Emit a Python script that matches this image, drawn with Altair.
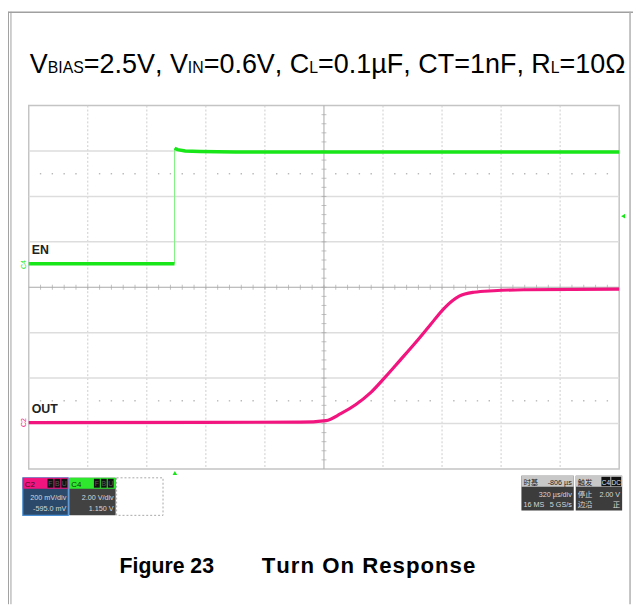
import altair as alt
import pandas as pd
import numpy as np

# ---------------- data (in screen divisions: x 0..10, y -4..4) ----------------
en_low_x = [0.0, 2.47]
en_low_y = [0.52, 0.52]
en_edge_x = [2.47, 2.47]
en_edge_y = [0.52, 3.06]
en_high_x = [2.47, 2.52, 2.65, 2.9, 3.5, 10.0]
en_high_y = [3.06, 3.03, 3.00, 2.99, 2.98, 2.98]

out_x = [0.0, 4.6, 5.033, 5.284, 5.535, 5.786, 6.037, 6.288, 6.538, 6.789, 7.040, 7.291, 7.542, 7.876, 8.378, 10.0]
out_y = [-2.98, -2.97, -2.935, -2.783, -2.587, -2.326, -1.978, -1.609, -1.239, -0.848, -0.457, -0.196, -0.109, -0.076, -0.054, -0.04]

vgrid = [1, 2, 3, 4, 6, 7, 8, 9]
hgrid = [-3, -2, -1, 1, 2, 3]
minor_x = [round(v, 2) for v in np.arange(0.2, 10.0, 0.2)]
minor_y = [round(v, 2) for v in np.arange(-3.8, 4.0, 0.2)]
dot_x = [v for v in minor_x if abs(v - round(v)) > 1e-6]
dot_rows = [2.5, -2.5]

title_segments = [("V", 0), ("BIAS", 1), ("=2.5V, V", 0), ("IN", 1), ("=0.6V, C", 0), ("L", 1),
                  ("=0.1µF, CT=1nF, R", 0), ("L", 1), ("=10Ω", 0)]
caption_left = "Figure 23"
caption_right = "Turn On Response"

W, H = 598, 368
xs = alt.Scale(domain=[0, 10], nice=False, zero=False)
ys = alt.Scale(domain=[-4, 4], nice=False, zero=False)
one = alt.Data(values=[{"k": 0}])


def X(f="x"):
    return alt.X(f + ":Q", scale=xs, axis=None)


def Y(f="y"):
    return alt.Y(f + ":Q", scale=ys, axis=None)


layers = []

# grid
layers.append(alt.Chart(pd.DataFrame({"x": vgrid})).mark_rule(color="#cccccc", strokeWidth=1, strokeDash=[2, 2]).encode(x=X()))
layers.append(alt.Chart(pd.DataFrame({"y": hgrid})).mark_rule(color="#dddddd", strokeWidth=1.5).encode(y=Y()))
layers.append(alt.Chart(pd.DataFrame({"x": [5]})).mark_rule(color="#a8a8a8", strokeWidth=1).encode(x=X()))
layers.append(alt.Chart(pd.DataFrame({"y": [0]})).mark_rule(color="#a8a8a8", strokeWidth=1).encode(y=Y()))
layers.append(alt.Chart(pd.DataFrame({"x": minor_x, "y": [0] * len(minor_x)})).mark_tick(
    color="#a8a8a8", orient="vertical", size=5, thickness=1).encode(x=X(), y=Y()))
layers.append(alt.Chart(pd.DataFrame({"y": minor_y, "x": [5] * len(minor_y)})).mark_tick(
    color="#a8a8a8", orient="horizontal", size=5, thickness=1).encode(x=X(), y=Y()))
dots = pd.DataFrame([{"x": x, "y": y} for y in dot_rows for x in dot_x])
layers.append(alt.Chart(dots).mark_square(color="#b8b8b8", size=2, opacity=1).encode(x=X(), y=Y()))

# traces
en_df = pd.concat([
    pd.DataFrame({"x": en_low_x, "y": en_low_y, "s": "low"}),
    pd.DataFrame({"x": en_high_x, "y": en_high_y, "s": "high"}),
])
layers.append(alt.Chart(pd.DataFrame({"x": en_edge_x, "y": en_edge_y})).mark_line(color="#7cf07c", strokeWidth=1).encode(x=X(), y=Y()))
layers.append(alt.Chart(en_df).mark_line(color="#19e619", strokeWidth=3.5).encode(x=X(), y=Y(), detail="s:N"))
layers.append(alt.Chart(pd.DataFrame({"x": out_x, "y": out_y})).mark_line(
    color="#f2147f", strokeWidth=3.2, interpolate="monotone").encode(x=X(), y=Y()))

# ---------- decorations (pixel positions relative to plot origin) ----------
OX, OY = 29, 103  # plot origin in page coordinates


def px(x):
    return x - OX


def py(y):
    return y - OY


def rect(x1, y1, x2, y2, fill, stroke=None, sw=1, dash=None):
    kw = dict(fill=fill)
    if stroke:
        kw["stroke"] = stroke
        kw["strokeWidth"] = sw
    if dash:
        kw["strokeDash"] = dash
    return alt.Chart(one).mark_rect(**kw).encode(
        x=alt.value(px(x1)), x2=alt.value(px(x2)), y=alt.value(py(y1)), y2=alt.value(py(y2)))


def hline(x1, x2, y, color, sw=1):
    return alt.Chart(one).mark_rule(color=color, strokeWidth=sw).encode(
        x=alt.value(px(x1)), x2=alt.value(px(x2)), y=alt.value(py(y)), y2=alt.value(py(y)))


def vline(x, y1, y2, color, sw=1):
    return alt.Chart(one).mark_rule(color=color, strokeWidth=sw).encode(
        x=alt.value(px(x)), x2=alt.value(px(x)), y=alt.value(py(y1)), y2=alt.value(py(y2)))


def txt(t, x, y, size, color="#000000", weight="normal", align="left", font="Liberation Sans", angle=0, baseline="alphabetic"):
    kw = dict(text=t, fontSize=size, color=color, fontWeight=weight, align=align, font=font, baseline=baseline)
    if angle:
        kw["angle"] = angle
    return alt.Chart(one).mark_text(**kw).encode(x=alt.value(px(x)), y=alt.value(py(y)))


# outer frame
layers.append(vline(8.5, 8, 608, "#a0a0a0", 1))
layers.append(vline(11, 8, 608, "#a0a0a0", 1))
layers.append(hline(8, 641, 8.5, "#a0a0a0", 1.5))
layers.append(vline(638, 8, 608, "#b0b0b0", 1.5))

# Arial / Liberation Sans advance widths (per 1000 em); chars placed one by one (no kerning)
AW = {'V': 667, 'B': 667, 'I': 278, 'A': 667, 'S': 667, '=': 584, '2': 556, '.': 278, '5': 556,
      ',': 278, ' ': 278, 'N': 722, '0': 556, '6': 556, 'C': 722, 'L': 556, '1': 556, 'µ': 576,
      'F': 611, 'T': 611, 'n': 556, 'R': 722, 'Ω': 768}
AWB = {'F': 611, 'i': 278, 'g': 611, 'u': 611, 'r': 389, 'e': 556, ' ': 278, '2': 556, '3': 556,
       'T': 611, 'n': 611, 'O': 778, 'R': 722, 's': 556, 'p': 611, 'o': 611}


def place(text, x0, y, size, widths, weight="normal", track=0.0):
    x = x0
    for c in text:
        if c != " ":
            layers.append(txt(c, x, y, size, "#000000", weight))
        x += widths[c] * size / 1000.0 + track
    return x


MAIN, SUB = 27.3, 16
cx = 30
for seg, is_sub in title_segments:
    cx = place(seg, cx, 70, SUB if is_sub else MAIN, AW)

# caption
place(caption_left, 121, 576, 21.5, AWB, "bold")
place(caption_right, 265, 576, 22.5, AWB, "bold", track=1.0)

# trace labels
layers.append(txt("EN", 32, 253, 12.5, "#222222", "bold"))
layers.append(txt("OUT", 32, 414, 12.5, "#222222", "bold"))
layers.append(txt("C4", 26, 264, 7, "#19e619", angle=270, align="center"))
layers.append(txt("C2", 26, 424, 7, "#f2147f", angle=270, align="center"))

# trigger markers
layers.append(alt.Chart(one).mark_point(shape="triangle-up", filled=True, color="#19e619", size=22, opacity=1).encode(
    x=alt.value(px(177)), y=alt.value(py(475))))
layers.append(alt.Chart(one).mark_point(shape="triangle-left", filled=True, color="#19e619", size=22, opacity=1).encode(
    x=alt.value(px(631)), y=alt.value(py(215))))

# channel boxes
SF = "Liberation Sans"
BS = 7.3
layers.append(rect(23, 480, 69, 518, "#2b4a6b", "#4a8fd4", 1.2))
layers.append(rect(23, 480, 69, 491, "#f2147f"))
layers.append(txt("C2", 25, 489, 8, "#3a1020", font=SF))
for i, ch in enumerate(["F", "B", "U"]):
    layers.append(rect(48 + i * 7, 481, 54 + i * 7, 490, "#111111"))
    layers.append(txt(ch, 51 + i * 7, 488.5, 7, "#5a5a5a", align="center", font=SF))
layers.append(txt("200 mV/div", 67, 502, BS, "#d8d8d8", align="right", font=SF))
layers.append(txt("-595.0 mV", 67, 514, BS, "#d8d8d8", align="right", font=SF))

layers.append(rect(70, 480, 117, 518, "#424242"))
layers.append(rect(70, 480, 117, 491, "#2ee82e"))
layers.append(txt("C4", 72, 489, 8, "#103010", font=SF))
for i, ch in enumerate(["F", "B", "U"]):
    layers.append(rect(95 + i * 7, 481, 101 + i * 7, 490, "#111111"))
    layers.append(txt(ch, 98 + i * 7, 488.5, 7, "#5a5a5a", align="center", font=SF))
layers.append(txt("2.00 V/div", 115, 502, BS, "#d8d8d8", align="right", font=SF))
layers.append(txt("1.150 V", 115, 514, BS, "#d8d8d8", align="right", font=SF))
layers.append(rect(118, 480, 165, 518, "#ffffff", "#a8a8a8", 1, [2, 2]))

# timebase / trigger boxes
CJK = "Noto Sans CJK SC"
layers.append(rect(528, 478, 581, 513, "#3c3c3c"))
layers.append(rect(528, 478, 581, 489, "#c8c8c8"))
layers.append(txt("时基", 530, 487.5, 7.5, "#222222", font=CJK))
layers.append(txt("-806 µs", 579, 487.5, BS, "#222222", align="right", font=SF))
layers.append(txt("320 µs/div", 579, 499, BS, "#d8d8d8", align="right", font=SF))
layers.append(txt("16 MS", 530, 510, BS, "#d8d8d8", font=SF))
layers.append(txt("5 GS/s", 579, 510, BS, "#d8d8d8", align="right", font=SF))

layers.append(rect(583, 478, 630, 513, "#3c3c3c"))
layers.append(rect(583, 478, 630, 489, "#c8c8c8"))
layers.append(txt("触发", 585, 487.5, 7.5, "#222222", font=CJK))
layers.append(rect(609, 479, 618, 488.5, "#111111"))
layers.append(rect(619, 479, 629, 488.5, "#111111"))
layers.append(txt("C4", 613.5, 487, 6.5, "#e0e0e0", align="center", font=SF))
layers.append(txt("DC", 624, 487, 6.5, "#e0e0e0", align="center", font=SF))
layers.append(txt("停止", 585, 499, 7.5, "#d8d8d8", font=CJK))
layers.append(txt("2.00 V", 628, 499, BS, "#d8d8d8", align="right", font=SF))
layers.append(txt("边沿", 585, 510, 7.5, "#d8d8d8", font=CJK))
layers.append(txt("正", 628, 510, 7.5, "#d8d8d8", align="right", font=CJK))

chart = alt.layer(*layers).properties(
    width=W, height=H,
    autosize=alt.AutoSizeParams(type="none"),
    padding={"left": 21, "top": 95, "right": 14, "bottom": 137},
    background="#ffffff",
).configure_view(stroke="#c4c4c4", strokeWidth=1.5)

chart.save("out.html", embed_options={"renderer": "svg", "actions": False})
